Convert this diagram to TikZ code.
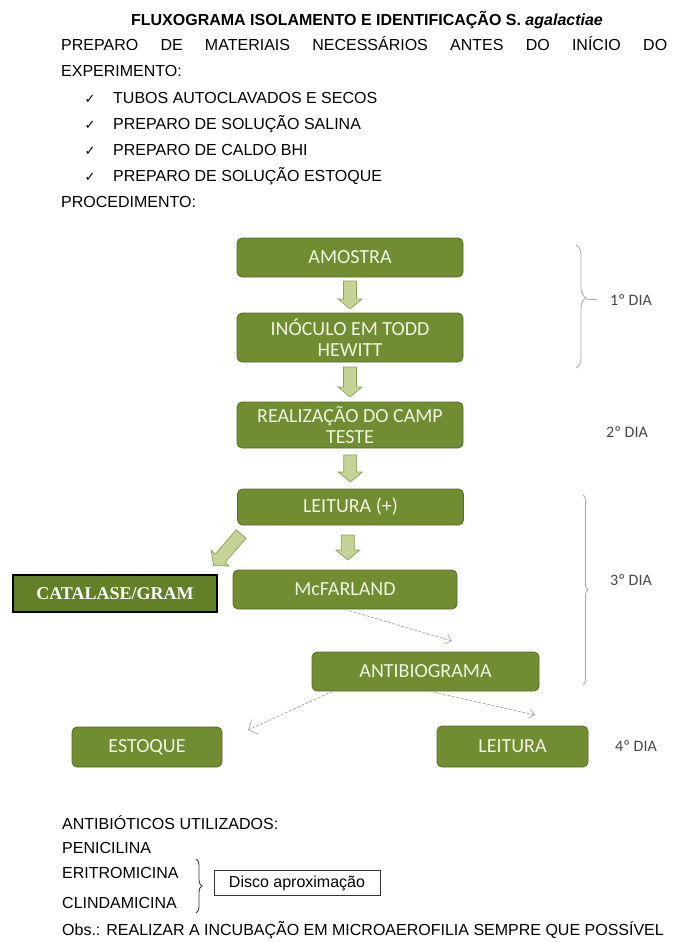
\documentclass[tikz,border=0pt]{standalone}
\usepackage{fontspec}
\setmainfont{Liberation Sans}
\newfontfamily\boxfont{Carlito}
\newfontfamily\catfont{Liberation Serif}
\newfontfamily\symbfont{DejaVu Sans}
\usetikzlibrary{positioning,arrows.meta,calc,decorations.pathreplacing}

\definecolor{boxgreen}{RGB}{112,141,50}
\definecolor{boxedge}{RGB}{84,108,36}
\definecolor{catgreen}{RGB}{98,128,40}
\definecolor{arrowfill}{RGB}{196,212,150}
\definecolor{arrowedge}{RGB}{140,160,90}
\definecolor{boxtext}{RGB}{242,244,228}
\definecolor{daytext}{RGB}{70,70,70}

\begin{document}
\begin{tikzpicture}[x=1pt, y=-1pt,
    box/.style={draw=boxedge, line width=0.8pt, fill=boxgreen, rounded corners=5pt, text=boxtext, font=\boxfont\fontsize{20}{21}\selectfont, align=center, inner sep=0pt},
    catbox/.style={draw=black, line width=1.4pt, fill=catgreen, text=white, font=\catfont\bfseries\fontsize{18}{20}\selectfont, inner sep=0pt},
    txt/.style={anchor=base west, inner sep=0pt, font=\fontsize{16}{19}\selectfont},
    day/.style={anchor=west, inner sep=0pt, text=daytext, font=\boxfont\fontsize{16}{18}\selectfont},
    dasharrow/.style={draw=gray!65, line width=0.8pt, dash pattern=on 3pt off 1.5pt, -{Straight Barb[length=5pt,width=9pt]}},
    daybrace/.style={draw=gray!70, line width=0.8pt, decorate, decoration={brace, amplitude=#1}},
    fatarrow/.pic={
        \draw[draw=arrowedge, fill=arrowfill, line width=0.7pt]
            (-#1/2,-6.5) -- ({#1/2-10},-6.5) -- ({#1/2-10},-12) -- (#1/2,0)
            -- ({#1/2-10},12) -- ({#1/2-10},6.5) -- (-#1/2,6.5) -- cycle;
    },
]
\useasboundingbox (0,0) rectangle (678,942);

% cabecalho
\node[anchor=base, inner sep=0pt, font=\bfseries\fontsize{16}{18}\selectfont] (title) at (367,26) {FLUXOGRAMA ISOLAMENTO E IDENTIFICAÇÃO S. \textit{agalactiae}};
\node[txt] (prep) at (61,51) {\makebox[606pt][s]{PREPARO DE MATERIAIS NECESSÁRIOS ANTES DO INÍCIO DO}};
\node[txt] (exper) at (61,77) {EXPERIMENTO:};
\foreach \t [count=\i] in {TUBOS AUTOCLAVADOS E SECOS, PREPARO DE SOLUÇÃO SALINA, PREPARO DE CALDO BHI, PREPARO DE SOLUÇÃO ESTOQUE} {
    \node[txt] (item\i) at (113,{77+26*\i}) {\t};
    \node[anchor=base, inner sep=0pt, font=\symbfont\fontsize{13}{14}\selectfont] (tick\i) at (90,{77+26*\i}) {✓};
}
\node[txt] (proc) at (61,207) {PROCEDIMENTO:};

% fluxo
\node[box, minimum width=226, minimum height=39] (amostra) at (350,257.5) {AMOSTRA};
\node[box, minimum width=226, minimum height=49] (inoculo) at (350,337.5) {INÓCULO EM TODD\\HEWITT};
\node[box, minimum width=226, minimum height=46] (camp) at (350,425) {REALIZAÇÃO DO CAMP\\TESTE};
\node[box, minimum width=226, minimum height=36] (leitpos) at (350.5,507) {LEITURA (+)};
\node[box, minimum width=224, minimum height=39] (mcf) at (345,589.5) {McFARLAND};
\node[catbox, minimum width=204, minimum height=37] (catal) at (115,593.5) {CATALASE/GRAM};
\node[box, minimum width=227, minimum height=39] (antib) at (425.5,671.5) {ANTIBIOGRAMA};
\node[box, minimum width=150, minimum height=40] (estoque) at (147,747) {ESTOQUE};
\node[box, minimum width=151, minimum height=41] (leitura) at (512.5,746.5) {LEITURA};

\pic[rotate=-90] at ($(amostra.south)!0.5!(inoculo.north)$) {fatarrow=28};
\pic[rotate=-90] at ($(inoculo.south)!0.5!(camp.north)$) {fatarrow=30};
\pic[rotate=-90] at ($(camp.south)!0.5!(leitpos.north)$) {fatarrow=27};
\pic[rotate=-90] at ($(leitpos.south)!0.5!(mcf.north)$) {fatarrow=25};
\pic[rotate=-131] at ($(leitpos.south west)!0.5!(catal.north east)$) {fatarrow=42};

\coordinate (tipanti) at (452,641);
\coordinate (tipest) at (248,730);
\coordinate (tipleit) at (535,715);
\draw[dasharrow] (mcf.south) -- (tipanti);
\draw[dasharrow, -{Straight Barb[length=7pt,width=16pt]}] ([xshift=21]antib.south west) -- (tipest);
\draw[dasharrow] ([xshift=4.5]antib.south) -- (tipleit);

% dias
\node[day] (dia1) at (610,300) {1º DIA};
\node[day] (dia2) at (606,432) {2º DIA};
\node[day] (dia3) at (610,580) {3º DIA};
\node[day] (dia4) at (615,746) {4º DIA};
\draw[daybrace=10pt, decoration={aspect=0.43}] (576,245) -- (576,368);
\coordinate (brtip) at (586,299);
\draw[gray!70, line width=0.8pt] (brtip) -- ([xshift=-12]dia1.west);
\draw[daybrace=5pt] (583,495) -- (583,685);

% antibioticos
\node[txt] (antibio) at (62,829) {ANTIBIÓTICOS UTILIZADOS:};
\node[txt] (penic) at (62,853) {PENICILINA};
\node[txt] (eritro) at (62,878) {ERITROMICINA};
\node[txt] (clinda) at (62,908) {CLINDAMICINA};
\node[txt] (obs) at (62,935) {Obs.: REALIZAR A INCUBAÇÃO EM MICROAEROFILIA SEMPRE QUE POSSÍVEL};
\draw[daybrace=6pt, draw=black!80] (196,859) -- (196,913);
\node[draw=black!80, line width=0.6pt, inner sep=0pt, minimum width=166, minimum height=25, font=\fontsize{16}{19}\selectfont] (disco) at (297,883) {Disco aproximação};
\end{tikzpicture}
\end{document}
